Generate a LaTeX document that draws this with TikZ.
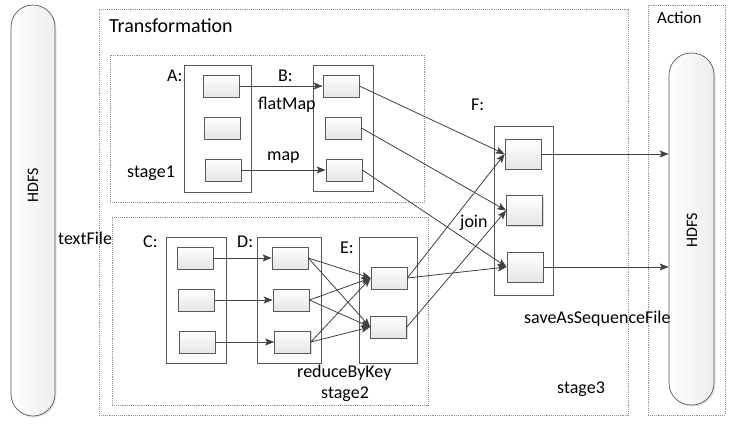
\documentclass[tikz,border=0pt]{standalone}
\usepackage{fontspec}
\setmainfont{Carlito}
\usetikzlibrary{arrows.meta,shadows}
\begin{document}
\begin{tikzpicture}[x=1pt,y=-1pt,
  lbl/.style={font=\fontsize{18}{20}\selectfont, anchor=base west, inner sep=0pt, text=black},
  cell/.style={draw=black!65, line width=0.7pt, top color=white, bottom color=gray!20,
    minimum width=36pt, minimum height=22pt, inner sep=0pt,
    drop shadow={shadow xshift=1.2pt, shadow yshift=-1.2pt, fill=gray!60, opacity=0.5}},
  fcell/.style={cell, minimum height=30pt},
  group/.style={draw=black!65, line width=0.7pt, fill=white, inner sep=0pt},
  stagebox/.style={draw=gray!85, densely dotted, line width=0.9pt, inner sep=0pt},
  conn/.style={draw=black!75, line width=0.8pt, -{Stealth[length=9pt,width=7pt,inset=2pt]}},
  pill/.style={draw=black!65, line width=0.7pt, rounded corners=22pt, inner sep=0pt,
    left color=white, right color=gray!14,
    drop shadow={shadow xshift=1.5pt, shadow yshift=-1.5pt, fill=gray!50, opacity=0.4}},
  pilltext/.style={font=\fontsize{16}{18}\selectfont, rotate=90, inner sep=0pt}
]
\useasboundingbox (0,0) rectangle (733,426);
% left HDFS
\node[pill, minimum width=44pt, minimum height=411pt] (hdfsL) at (33,210.5) {};
\node[pilltext] (hdfsLt) at (33,185) {HDFS};
% outer stages
\node[stagebox, minimum width=529pt, minimum height=406pt] (trans) at (363.5,212) {};
\node[stagebox, minimum width=77pt, minimum height=410pt] (action) at (686.5,210) {};
\node[stagebox, minimum width=314pt, minimum height=147pt] (stage1) at (267,128.5) {};
\node[stagebox, minimum width=316pt, minimum height=188pt] (stage2) at (270,311) {};
% right HDFS
\node[pill, minimum width=45pt, minimum height=352pt] (hdfsR) at (691.5,229) {};
\node[pilltext] (hdfsRt) at (692,230) {HDFS};
% groups
\node[group, minimum width=67pt, minimum height=127pt] (Abox) at (217.5,128.5) {};
\node[group, minimum width=60pt, minimum height=126pt] (Bbox) at (343,128) {};
\node[group, minimum width=60pt, minimum height=126pt] (Cbox) at (196,300) {};
\node[group, minimum width=64pt, minimum height=126pt] (Dbox) at (289,300) {};
\node[group, minimum width=58pt, minimum height=126pt] (Ebox) at (388,300) {};
\node[group, minimum width=59pt, minimum height=169pt] (Fbox) at (523.5,210.5) {};
% cells
\node[cell] (A1) at (221,86) {};
\node[cell] (A2) at (222,128) {};
\node[cell] (A3) at (223,170) {};
\node[cell] (B1) at (341,86) {};
\node[cell] (B2) at (343,128) {};
\node[cell] (B3) at (344,170) {};
\node[cell] (C1) at (195,258) {};
\node[cell] (C2) at (196,300) {};
\node[cell] (C3) at (197,342) {};
\node[cell] (D1) at (290,258) {};
\node[cell] (D2) at (291,300) {};
\node[cell] (D3) at (292.5,342) {};
\node[cell] (E1) at (389,278) {};
\node[cell] (E2) at (388.5,327) {};
\node[fcell] (F1) at (523,154) {};
\node[fcell] (F2) at (524.5,210.5) {};
\node[fcell] (F3) at (525,267) {};
% labels
\node[lbl, font=\fontsize{20}{22}\selectfont] (tTrans) at (109,32) {Transformation};
\node[lbl, font=\fontsize{17}{19}\selectfont] (tAction) at (657,23) {Action};
\node[lbl] (tA) at (167,81) {A:};
\node[lbl] (tstage1) at (127,177) {stage1};
\node[lbl] (tB) at (278,81) {B:};
\node[lbl] (tflat) at (258,109) {flatMap};
\node[lbl] (tmap) at (267,160) {map};
\node[lbl] (tC) at (143,247) {C:};
\node[lbl] (tD) at (237,247) {D:};
\node[lbl] (tE) at (340,253) {E:};
\node[lbl] (treduce) at (297,377) {reduceByKey};
\node[lbl] (tstage2) at (321,398) {stage2};
\node[lbl] (ttext) at (58,244) {textFile};
\node[lbl] (tF) at (471,110) {F:};
\node[lbl] (tjoin) at (460,227) {join};
\node[lbl] (tsave) at (524,323) {saveAsSequenceFile};
\node[lbl] (tstage3) at (557,393) {stage3};
% connectors
\draw[conn] (A1.east) -- (B1.west);
\draw[conn] (A3.east) -- (B3.west);
\draw[conn] (C1.east) -- (D1.west);
\draw[conn] (C2.east) -- (D2.west);
\draw[conn] (C3.east) -- (D3.west);
\foreach \d in {D1,D2,D3}{
  \draw[conn] (\d.east) -- (E1.west);
  \draw[conn] (\d.east) -- (E2.west);
}
\draw[conn] (B1.east) -- (F1.west);
\draw[conn] (B2.east) -- (F2.west);
\draw[conn] (B3.east) -- (F3.west);
\draw[conn] (E1.east) -- (F1.west);
\draw[conn] (E1.east) -- (F3.west);
\draw[conn] (E2.east) -- (F2.west);
\draw[conn] (F1.east) -- (F1.east -| hdfsR.west);
\draw[conn] (F3.east) -- (F3.east -| hdfsR.west);
\end{tikzpicture}
\end{document}
